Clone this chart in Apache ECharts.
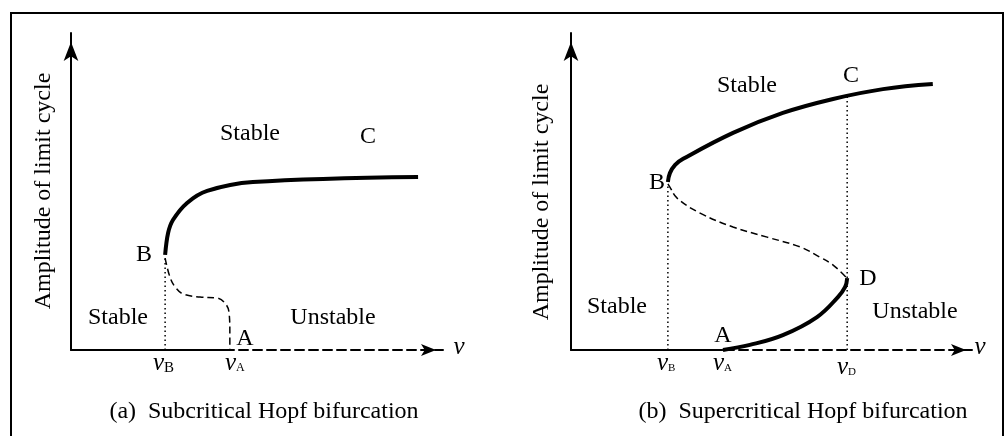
<!DOCTYPE html>
<html>
<head>
<meta charset="utf-8">
<script src="https://cdn.jsdelivr.net/npm/echarts@6/dist/echarts.min.js"></script>
<style>
  html, body { margin: 0; padding: 0; background: #fff; }
  #chart { width: 1005px; height: 436px; }
</style>
</head>
<body>
<div id="chart"></div>
<script>
// both panels use 0..100 units on v (x) and amplitude (y)

// (a) subcritical Hopf
var subStable = [[25.3, 30.0], [26.1, 36.9], [27.4, 41.0], [31.2, 46.4], [36.6, 50.2], [48.9, 53.0], [93.3, 54.6]]
var subUnstable = [[25.3, 29.0], [26.6, 23.0], [28.0, 19.9], [30.1, 17.7], [34.7, 16.7], [39.2, 16.4], [41.4, 14.8], [42.5, 11.7], [42.7, 5.4], [42.7, 0.3]]
var subAxisSolid = [[0, 0], [42.7, 0]]
var subGuideB = [[25.3, 0], [25.3, 29.0]]

// (b) supercritical Hopf
var supUpper = [[24.1, 53.0], [24.6, 55.8], [25.9, 58.4], [27.9, 60.3], [40.3, 68.5], [52.7, 74.8], [65.2, 79.2], [77.6, 82.3], [90.0, 83.9]]
var supMiddle = [[24.1, 52.4], [24.6, 51.4], [26.4, 47.9], [32.1, 43.2], [40.3, 38.8], [48.8, 35.6], [57.0, 32.5], [61.9, 29.3], [65.2, 26.8], [68.4, 23.0]]
var supLower = [[68.7, 22.7], [68.2, 19.9], [66.4, 16.7], [61.2, 10.4], [52.7, 4.7], [44.5, 1.6], [37.8, 0]]
var supAxisSolid = [[0, 0], [37.8, 0]]
var supGuideB = [[24.1, 0], [24.1, 52.4]]
var supGuideD = [[68.7, 0], [68.7, 80.3]]

var serif = "'Liberation Serif', 'Times New Roman', serif"
var chart = echarts.init(document.getElementById('chart'))

function xAxisOf(i) {
  return {
    gridIndex: i, type: 'value', min: 0, max: 100,
    splitLine: { show: false }, axisTick: { show: false }, axisLabel: { show: false },
    axisLine: {
      show: true, symbol: ['none', 'arrow'], symbolSize: [9, 15], symbolOffset: [0, -7],
      lineStyle: { color: '#000', width: 2, type: [9, 5] }
    }
  }
}
function yAxisOf(i) {
  return {
    gridIndex: i, type: 'value', min: 0, max: 100,
    splitLine: { show: false }, axisTick: { show: false }, axisLabel: { show: false },
    axisLine: {
      show: true, symbol: ['none', 'arrow'], symbolSize: [11, 19], symbolOffset: [0, -9],
      lineStyle: { color: '#000', width: 2 }
    }
  }
}
function curve(i, data, width, type, smooth) {
  return {
    type: 'line', xAxisIndex: i, yAxisIndex: i, data: data, symbol: 'none',
    smooth: smooth, clip: false, silent: true,
    lineStyle: { color: '#000', width: width, type: type }
  }
}
function txt(x, y, s, size, extra) {
  return Object.assign({
    type: 'text', x: x, y: y, silent: true,
    style: { text: s, font: (size || 24) + 'px ' + serif, fill: '#000', align: 'center', verticalAlign: 'middle' }
  }, extra || {})
}
// italic v with a small subscript; x is the left edge of the v
function vsub(x, y, s, size) {
  return [
    { type: 'text', x: x, y: y, silent: true,
      style: { text: 'v', font: 'italic 25px ' + serif, fill: '#000', align: 'left', verticalAlign: 'middle' } },
    { type: 'text', x: x + 11, y: y + 5, silent: true,
      style: { text: s, font: size + 'px ' + serif, fill: '#000', align: 'left', verticalAlign: 'middle' } }
  ]
}

var labels = [
  { type: 'rect', shape: { x: 11, y: 13, width: 992, height: 440 }, style: { fill: 'none', stroke: '#000', lineWidth: 2 } },
  // panel a
  txt(44, 191, 'Amplitude of limit cycle', 24, { rotation: Math.PI / 2 }),
  txt(250, 134, 'Stable'),
  txt(368, 137, 'C'),
  txt(144, 255, 'B'),
  txt(118, 318, 'Stable'),
  txt(333, 318, 'Unstable'),
  txt(245, 339, 'A'),
  { type: 'text', x: 459, y: 347, silent: true, style: { text: 'v', font: 'italic 25px ' + serif, fill: '#000', align: 'center', verticalAlign: 'middle' } },
  txt(264, 412, '(a)  Subcritical Hopf bifurcation', 24),
  // panel b
  txt(542, 202, 'Amplitude of limit cycle', 24, { rotation: Math.PI / 2 }),
  txt(747, 86, 'Stable'),
  txt(851, 76, 'C'),
  txt(657, 183, 'B'),
  txt(868, 279, 'D'),
  txt(617, 307, 'Stable'),
  txt(915, 312, 'Unstable'),
  txt(723, 336, 'A'),
  { type: 'text', x: 980, y: 347, silent: true, style: { text: 'v', font: 'italic 25px ' + serif, fill: '#000', align: 'center', verticalAlign: 'middle' } },
  txt(803, 412, '(b)  Supercritical Hopf bifurcation', 24)
].concat(
  vsub(153, 363, 'B', 15), vsub(225, 363, 'A', 12),
  vsub(657, 363, 'B', 11), vsub(713, 363, 'A', 11), vsub(837, 367, 'D', 11)
)

chart.setOption({
  animation: false,
  grid: [
    { left: 71, right: 562, top: 33, bottom: 86 },
    { left: 571, right: 32, top: 33, bottom: 86 }
  ],
  xAxis: [xAxisOf(0), xAxisOf(1)],
  yAxis: [yAxisOf(0), yAxisOf(1)],
  series: [
    curve(0, subAxisSolid, 2, 'solid', false),
    curve(0, subGuideB, 1.5, [1.5, 3], false),
    curve(0, subUnstable, 1.5, [7, 4], 0.4),
    curve(0, subStable, 4, 'solid', 0.35),
    curve(1, supAxisSolid, 2, 'solid', false),
    curve(1, supGuideB, 1.5, [1.5, 3], false),
    curve(1, supGuideD, 1.5, [1.5, 3], false),
    curve(1, supMiddle, 1.5, [7, 4], 0.4),
    curve(1, supUpper, 4, 'solid', 0.4),
    curve(1, supLower, 4, 'solid', 0.4)
  ],
  graphic: labels
})
</script>
</body>
</html>
